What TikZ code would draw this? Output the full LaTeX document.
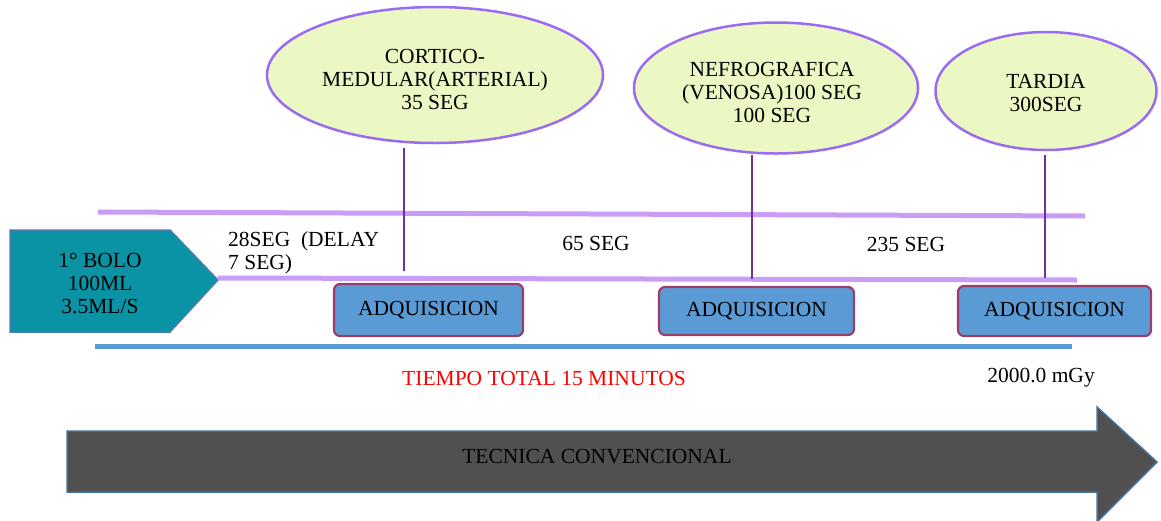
\documentclass[tikz,border=0pt]{standalone}
\usepackage{fontspec}
\setmainfont{Liberation Serif}
\usetikzlibrary{shapes.geometric}
\definecolor{teal1}{HTML}{0A93A5}
\definecolor{tealedge}{HTML}{4A7EB0}
\definecolor{lilac}{HTML}{C99CF5}
\definecolor{vline}{HTML}{7030A0}
\definecolor{ellfill}{HTML}{EBF8C4}
\definecolor{elledge}{HTML}{9B6CF0}
\definecolor{boxfill}{HTML}{5B9BD5}
\definecolor{boxedge}{HTML}{9B3D6B}
\definecolor{arrfill}{HTML}{505050}
\definecolor{arredge}{HTML}{41719C}
\begin{document}
\begin{tikzpicture}[x=1pt,y=-1pt,
  every node/.style={font=\fontsize{21.5}{24}\selectfont, inner sep=0pt},
  phase/.style={ellipse, draw=elledge, line width=2.5pt, fill=ellfill, align=center},
  acq/.style={draw=boxedge, line width=2.2pt, fill=boxfill, rounded corners=6pt, align=center},
  lil/.style={lilac, line width=5pt},
  tick/.style={vline, line width=2pt},
  lbl/.style={align=center}]
\useasboundingbox (0,0) rectangle (1161,520);
% bolus pentagon
\draw[fill=teal1, draw=tealedge, line width=1.5pt] (10,230) -- (170,230) -- (218,280) -- (170,332) -- (10,332) -- cycle;
\node[lbl] (bolo) at (100,283) {1° BOLO\\[-1pt]100ML\\[-1pt]3.5ML/S};
% lilac lines
\coordinate (l1a) at (98,212); \coordinate (l1b) at (1085,216);
\coordinate (l2a) at (218,278); \coordinate (l2b) at (1077,280);
\draw[lil] (l1a) -- (l1b);
\draw[lil] (l2a) -- (l2b);
% ellipses
\node[phase, minimum width=336pt, minimum height=136pt] (e1) at (435,75) {};
\node[lbl] (t1) at (435,79) {CORTICO-\\[-1pt]MEDULAR(ARTERIAL)\\[-1pt]35 SEG};
\node[phase, minimum width=284pt, minimum height=131pt] (e2) at (776,88) {};
\node[lbl] (t2) at (772,92) {NEFROGRAFICA\\[-1pt](VENOSA)100 SEG\\[-1pt]100 SEG};
\node[phase, minimum width=221pt, minimum height=118pt] (e3) at (1046,91) {};
\node[lbl] (t3) at (1046,93) {TARDIA\\[-1pt]300SEG};
% ticks
\coordinate (v1a) at (404,148); \coordinate (v1b) at (404,271);
\coordinate (v2a) at (752,155); \coordinate (v2b) at (752,279);
\coordinate (v3a) at (1045,155); \coordinate (v3b) at (1045,278);
\draw[tick] (v1a) -- (v1b);
\draw[tick] (v2a) -- (v2b);
\draw[tick] (v3a) -- (v3b);
% interval labels
\node[anchor=west, align=left] (d28) at (228,253) {28SEG\ \ (DELAY\\[-1pt]7 SEG)};
\node (s65) at (596,243) {65 SEG};
\node (s235) at (906,244) {235 SEG};
% acquisition boxes
\node[acq, minimum width=189pt, minimum height=52pt] (a1) at (428.5,310) {ADQUISICION};
\node[acq, minimum width=195pt, minimum height=48pt] (a2) at (756.5,311) {ADQUISICION};
\node[acq, minimum width=193pt, minimum height=50pt] (a3) at (1054.5,311) {ADQUISICION};
% blue line
\coordinate (ba) at (95,346); \coordinate (bb) at (1072,346);
\draw[boxfill, line width=5pt] (ba) -- (bb);
\node[text=red] (tt) at (544,378) {TIEMPO TOTAL 15 MINUTOS};
\node (mgy) at (1041,378) {2000.0 mGy};
% big arrow
\draw[fill=arrfill, draw=arredge, line width=1.5pt] (67,431) -- (1097,431) -- (1097,407) -- (1157,462) -- (1097,522) -- (1097,492) -- (67,492) -- cycle;
\node (tec) at (597,457) {TECNICA CONVENCIONAL};
\end{tikzpicture}
\end{document}
